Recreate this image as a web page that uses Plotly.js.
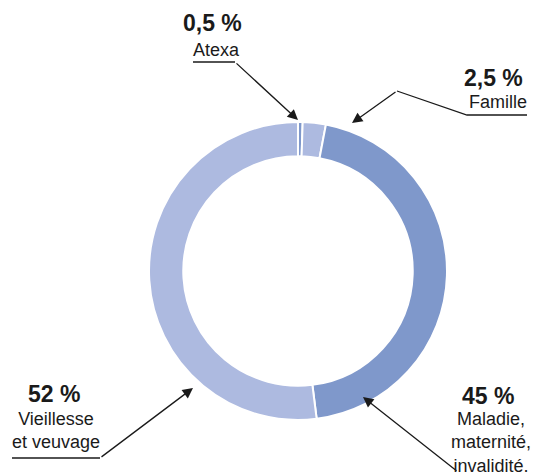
<!DOCTYPE html>
<html>
<head>
<meta charset="utf-8">
<script src="https://cdn.plot.ly/plotly-3.0.1.min.js"></script>
<style>html,body{margin:0;padding:0;background:#fff;}#chart{width:533px;height:472px;}</style>
</head>
<body>
<div id="chart"></div>
<script>
// Data
var categories = ["Atexa", "Famille", "Maladie, maternité, invalidité", "Vieillesse et veuvage"];
var shares = [0.5, 2.5, 45, 52];
var shareLabels = ["0,5 %", "2,5 %", "45 %", "52 %"];
var categoryLabels = ["Atexa", "Famille", "Maladie,<br>maternité,<br>invalidité,", "Vieillesse<br>et veuvage"];
var sliceColors = ["#7f98cb", "#adbae0", "#7f98cb", "#adbae0"];

// Layout geometry (pixels)
var W = 533, H = 472;
var ML = 149, MT = 122, PW = 298, PH = 298;
function px(x) { return (x - ML) / PW; }
function py(y) { return 1 - (y - MT) / PH; }

var ink = "#1a1a1a";
var font = "Liberation Sans, Arial, Helvetica, sans-serif";

// Label positions (pixel centres) for each category
var labelPos = [
  {pct: [212, 23], name: [216, 50]},
  {pct: [493, 78], name: [498, 102]},
  {pct: [488, 396], name: [491, 442]},
  {pct: [54, 394], name: [56, 431]}
];

var annotations = [];
for (var i = 0; i < categories.length; i++) {
  annotations.push({
    xref: "paper", yref: "paper", x: px(labelPos[i].pct[0]), y: py(labelPos[i].pct[1]),
    xanchor: "center", yanchor: "middle", showarrow: false,
    text: "<b>" + shareLabels[i] + "</b>",
    font: {family: font, size: 23, color: ink}
  });
  annotations.push({
    xref: "paper", yref: "paper", x: px(labelPos[i].name[0]), y: py(labelPos[i].name[1]),
    xanchor: "center", yanchor: "middle", showarrow: false,
    text: categoryLabels[i],
    font: {family: font, size: 18, color: ink}
  });
}

// Arrow segments: [tipX, tipY, tailX, tailY]
var arrows = [
  [298, 120, 235, 62],
  [352, 123, 397, 91],
  [363, 397, 458, 477],
  [193, 388, 100, 458]
];
arrows.forEach(function (a) {
  annotations.push({
    xref: "paper", yref: "paper", x: px(a[0]), y: py(a[1]),
    axref: "pixel", ayref: "pixel", ax: a[2] - a[0], ay: a[3] - a[1],
    text: "", showarrow: true, arrowhead: 2, arrowsize: 1.6, arrowwidth: 1.3,
    arrowcolor: ink, standoff: 0, startstandoff: 0
  });
});

// Leader lines (underlines / elbows)
var leaders = [
  [[193, 62], [235, 62]],
  [[397, 91], [467, 115], [527, 115]],
  [[12, 458], [100, 458]]
];
var shapes = leaders.map(function (pts) {
  var d = pts.map(function (p, k) { return (k ? "L" : "M") + px(p[0]) + "," + py(p[1]); }).join(" ");
  return {type: "path", xref: "paper", yref: "paper", path: d, line: {color: ink, width: 1.3}};
});

var trace = {
  type: "pie",
  labels: categories,
  values: shares,
  sort: false,
  direction: "clockwise",
  rotation: 0,
  hole: 0.77,
  textinfo: "none",
  hoverinfo: "none",
  marker: {colors: sliceColors, line: {color: "#ffffff", width: 2}},
  showlegend: false
};

var layout = {
  width: W, height: H,
  margin: {l: ML, r: W - ML - PW, t: MT, b: H - MT - PH, pad: 0},
  paper_bgcolor: "#ffffff",
  plot_bgcolor: "#ffffff",
  showlegend: false,
  annotations: annotations,
  shapes: shapes
};

Plotly.newPlot("chart", [trace], layout, {displayModeBar: false, staticPlot: true});
</script>
</body>
</html>
